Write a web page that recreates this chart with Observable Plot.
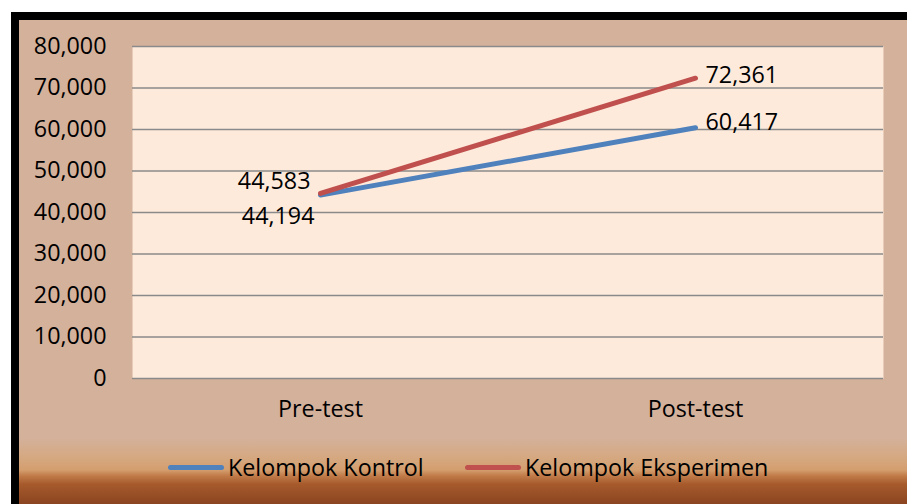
<!DOCTYPE html>
<html><head><meta charset="utf-8">
<script src="https://cdn.jsdelivr.net/npm/d3@7"></script>
<script src="https://cdn.jsdelivr.net/npm/@observablehq/plot@0.6"></script>
<style>
html,body{margin:0;padding:0;background:#fff;}
#wrap{position:relative;width:907px;height:504px;overflow:hidden;font-family:"Open Sans",sans-serif;}
#bg{position:absolute;left:11px;top:12px;width:896px;height:492px;box-sizing:border-box;border-left:8px solid #000;border-top:8px solid #000;
 background:linear-gradient(to bottom,#d4b19b 0px,#d4b19b 418px,#d5a880 438px,#d49e6e 450px,#c07a48 456px,#a75b2c 464px,#8a4420 484px);}
#chart{position:absolute;left:0;top:0;width:907px;}
#chart svg{background:transparent;display:block;}
#legend{position:relative;height:64px;font-size:23.3px;color:#000;}
.item{position:absolute;top:11px;display:flex;align-items:center;}
.sw{display:inline-block;width:56px;height:5px;border-radius:3px;margin-right:4px;}
</style></head>
<body><div id="wrap"><div id="bg"></div><div id="chart"></div></div>
<script>
const categories = ["Pre-test", "Post-test"];
const seriesNames = ["Kelompok Kontrol", "Kelompok Eksperimen"];
const kontrol = [44.194, 60.417];
const eksperimen = [44.583, 72.361];
const yTicks = [0, 10, 20, 30, 40, 50, 60, 70, 80];
const colors = ["#4f81bd", "#c0504d"];

const data = [];
categories.forEach((c, i) => {
  data.push({cat: c, series: seriesNames[0], value: kontrol[i], idx: i});
  data.push({cat: c, series: seriesNames[1], value: eksperimen[i], idx: i});
});
const fmt = d => d === 0 ? "0" : d.toFixed(3).replace(".", ",");
const FS = 23.3;

// label placement per point
const labelOpts = {
  "Kelompok Kontrol|0": {anchor: "end", dx: -6, dy: 21},
  "Kelompok Kontrol|1": {anchor: "start", dx: 10, dy: -5},
  "Kelompok Eksperimen|0": {anchor: "end", dx: -10, dy: -12},
  "Kelompok Eksperimen|1": {anchor: "start", dx: 10, dy: -3}
};
const labelMarks = data.map(d => {
  const o = labelOpts[d.series + "|" + d.idx];
  return Plot.text([d], {x: "cat", y: "value", text: r => fmt(r.value), textAnchor: o.anchor, dx: o.dx, dy: o.dy, fontSize: FS, fill: "#000"});
});

const chart = Plot.plot({
  width: 907, height: 440,
  marginLeft: 132, marginRight: 24, marginTop: 46, marginBottom: 62,
  style: {fontFamily: "'Open Sans', sans-serif", fontSize: FS + "px", color: "#000", background: "transparent"},
  x: {type: "point", domain: categories, padding: 0.5, label: null, tickSize: 0, tickPadding: 22},
  y: {domain: [0, 80], ticks: yTicks, tickFormat: fmt, label: null, tickSize: 0, tickPadding: 26},
  color: {domain: seriesNames, range: colors},
  marks: [
    Plot.frame({fill: "#fdeadb", stroke: null}),
    Plot.gridY(yTicks, {stroke: "#8a8a8a", strokeOpacity: 1, strokeWidth: 1.3}),
    Plot.axisX({tickSize: 0, tickPadding: 22, fontSize: FS}),
    Plot.axisY({ticks: yTicks, tickFormat: fmt, tickSize: 0, tickPadding: 26, fontSize: FS}),
    Plot.line(data.filter(d => d.series === seriesNames[0]), {x: "cat", y: "value", stroke: colors[0], strokeWidth: 5, strokeLinecap: "round"}),
    Plot.line(data.filter(d => d.series === seriesNames[1]), {x: "cat", y: "value", stroke: colors[1], strokeWidth: 5, strokeLinecap: "round"}),
    ...labelMarks
  ]
});
const host = document.getElementById("chart");
host.appendChild(chart);

const legend = document.createElement("div");
legend.id = "legend";
const lefts = [168, 465];
seriesNames.forEach((s, i) => {
  const it = document.createElement("div");
  it.className = "item";
  it.style.left = lefts[i] + "px";
  const sw = document.createElement("span");
  sw.className = "sw";
  sw.style.background = colors[i];
  const t = document.createElement("span");
  t.textContent = s;
  it.appendChild(sw); it.appendChild(t);
  legend.appendChild(it);
});
host.appendChild(legend);
</script></body></html>
